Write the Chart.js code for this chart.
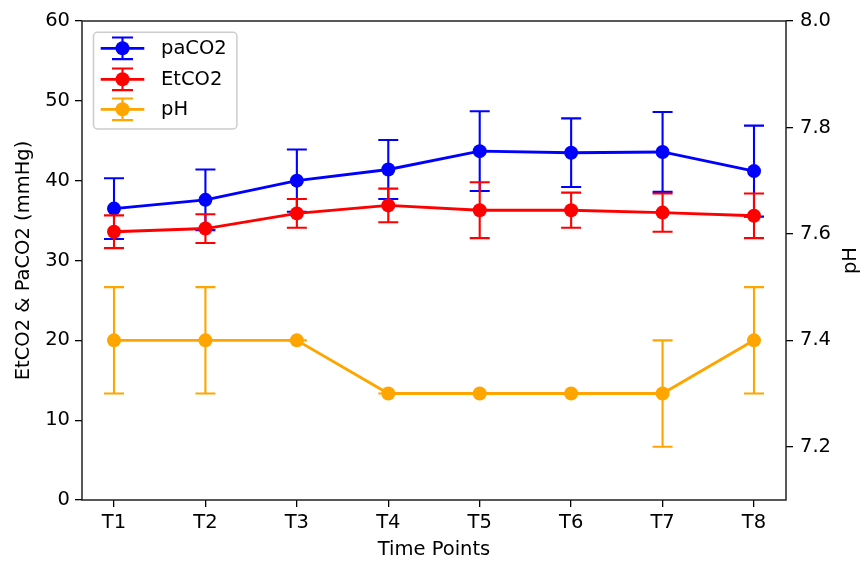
<!DOCTYPE html>
<html><head><meta charset="utf-8">
<script src="https://cdn.jsdelivr.net/npm/chart.js@4"></script>
<style>html,body{margin:0;padding:0;background:#fff}canvas{display:block}</style>
</head><body>
<canvas id="c" width="864" height="563"></canvas>
<script>
const categories = ['T1','T2','T3','T4','T5','T6','T7','T8'];
const paco2    = [36.5, 37.6, 40.0, 41.4, 43.7, 43.5, 43.6, 41.2];
const paco2Err = [3.8, 3.8, 3.9, 3.7, 5.0, 4.3, 5.0, 5.7];
const etco2    = [33.6, 34.0, 35.9, 36.9, 36.3, 36.3, 36.0, 35.6];
const etco2Err = [2.05, 1.8, 1.8, 2.1, 3.5, 2.2, 2.4, 2.8];
const ph       = [7.4, 7.4, 7.4, 7.3, 7.3, 7.3, 7.3, 7.4];
const phErr    = [0.1, 0.1, 0, 0, 0, 0, 0.1, 0.1];
const leftTicks  = [0, 10, 20, 30, 40, 50, 60];
const rightTicks = [7.2, 7.4, 7.6, 7.8, 8.0];

const FS = 19.5;
const FONT = {family: '"DejaVu Sans", sans-serif', size: FS};
const CSSFONT = FS + 'px "DejaVu Sans", sans-serif';
const MARKER_R = 7;

const errorBars = {
  id: 'errorBars',
  beforeDatasetDraw(chart, args) {
    const ds = chart.data.datasets[args.index];
    const yScale = chart.scales[ds.yAxisID];
    const xScale = chart.scales.x;
    const ctx = chart.ctx;
    ctx.save();
    ctx.strokeStyle = ds.borderColor;
    ctx.lineWidth = 2.1;
    ds.data.forEach((pt, i) => {
      const e = ds.errors[i];
      const x = xScale.getPixelForValue(pt.x);
      const y1 = yScale.getPixelForValue(pt.y + e);
      const y2 = yScale.getPixelForValue(pt.y - e);
      ctx.beginPath();
      ctx.moveTo(x, y1); ctx.lineTo(x, y2);
      ctx.moveTo(x - 10, y1); ctx.lineTo(x + 10, y1);
      ctx.moveTo(x - 10, y2); ctx.lineTo(x + 10, y2);
      ctx.stroke();
    });
    ctx.restore();
  }
};

const frame = {
  id: 'frame',
  afterDraw(chart) {
    const {ctx, chartArea: a} = chart;
    ctx.save();
    ctx.strokeStyle = '#222';
    ctx.lineWidth = 1.5;
    ctx.strokeRect(a.left, a.top, a.right - a.left, a.bottom - a.top);
    ctx.restore();
  }
};

const rightTitle = {
  id: 'rightTitle',
  afterDraw(chart) {
    const {ctx, chartArea: a} = chart;
    ctx.save();
    ctx.translate(851, (a.top + a.bottom) / 2);
    ctx.rotate(-Math.PI / 2);
    ctx.fillStyle = '#000';
    ctx.font = CSSFONT;
    ctx.textAlign = 'center';
    ctx.textBaseline = 'middle';
    ctx.fillText('pH', 0, 0);
    ctx.restore();
  }
};

const legendBox = {
  id: 'legendBox',
  afterDraw(chart) {
    const ctx = chart.ctx;
    const a = chart.chartArea;
    const bx = a.left + 11.5, by = a.top + 11.3, bw = 143.4, bh = 96.7;
    ctx.save();
    ctx.beginPath();
    ctx.roundRect(bx, by, bw, bh, 4);
    ctx.fillStyle = 'rgba(255,255,255,0.8)';
    ctx.fill();
    ctx.strokeStyle = '#cccccc';
    ctx.lineWidth = 1.5;
    ctx.stroke();
    const rows = [48.3, 79.3, 109.3];
    [0, 1, 2].forEach((di, r) => {
      const ds = chart.data.datasets[di];
      const cy = rows[r];
      const x0 = 100.7, x1 = 144.3, xm = 122.5;
      ctx.strokeStyle = ds.borderColor;
      ctx.lineWidth = 2.8;
      ctx.beginPath(); ctx.moveTo(x0, cy); ctx.lineTo(x1, cy); ctx.stroke();
      ctx.lineWidth = 2.1;
      ctx.beginPath();
      ctx.moveTo(xm, cy - 10.8); ctx.lineTo(xm, cy + 10.8);
      ctx.moveTo(xm - 10.5, cy - 10.8); ctx.lineTo(xm + 10.5, cy - 10.8);
      ctx.moveTo(xm - 10.5, cy + 10.8); ctx.lineTo(xm + 10.5, cy + 10.8);
      ctx.stroke();
      ctx.fillStyle = ds.backgroundColor;
      ctx.beginPath(); ctx.arc(xm, cy, MARKER_R, 0, Math.PI * 2); ctx.fill();
      ctx.fillStyle = '#000';
      ctx.font = CSSFONT;
      ctx.textAlign = 'left';
      ctx.textBaseline = 'middle';
      ctx.fillText(ds.label, 161, cy + 1);
    });
    ctx.restore();
  }
};

const toXY = arr => arr.map((v, i) => ({x: i, y: v}));
const gridOpts = {drawOnChartArea: false, drawTicks: true, tickLength: 7, color: '#000', lineWidth: 1.3};

new Chart(document.getElementById('c'), {
  type: 'line',
  data: {
    datasets: [
      {label: 'paCO2', data: toXY(paco2), errors: paco2Err, borderColor: '#0000ff', backgroundColor: '#0000ff', yAxisID: 'y', order: 3},
      {label: 'EtCO2', data: toXY(etco2), errors: etco2Err, borderColor: '#ff0000', backgroundColor: '#ff0000', yAxisID: 'y', order: 2},
      {label: 'pH', data: toXY(ph), errors: phErr, borderColor: '#ffa500', backgroundColor: '#ffa500', yAxisID: 'y1', order: 1}
    ]
  },
  options: {
    responsive: false,
    animation: false,
    devicePixelRatio: 1,
    layout: {padding: {top: 21, left: 0, right: 0, bottom: 0}},
    plugins: {legend: {display: false}, tooltip: {enabled: false}},
    elements: {
      line: {borderWidth: 2.9, tension: 0, fill: false},
      point: {radius: MARKER_R, borderWidth: 0, hoverRadius: MARKER_R, pointStyle: 'circle'}
    },
    scales: {
      x: {
        type: 'linear', position: 'bottom', min: -0.35, max: 7.35,
        afterBuildTicks: s => { s.ticks = categories.map((c, i) => ({value: i})); },
        ticks: {callback: v => categories[v], font: FONT, color: '#000', padding: 4, autoSkip: false, maxRotation: 0},
        grid: gridOpts, border: {display: false},
        title: {display: true, text: 'Time Points', font: FONT, color: '#000', padding: {top: 0, bottom: 1}},
        afterFit: s => { s.height = 63; }
      },
      y: {
        type: 'linear', position: 'left', min: 0, max: 60,
        afterBuildTicks: s => { s.ticks = leftTicks.map(v => ({value: v})); },
        ticks: {font: FONT, color: '#000', padding: 5},
        grid: gridOpts, border: {display: false},
        title: {display: true, text: 'EtCO2 & PaCO2 (mmHg)', font: FONT, color: '#000', padding: {top: 12, bottom: 0}},
        afterFit: s => { s.width = 82; }
      },
      y1: {
        type: 'linear', position: 'right', min: 7.1, max: 8.0,
        afterBuildTicks: s => { s.ticks = rightTicks.map(v => ({value: v})); },
        ticks: {font: FONT, color: '#000', padding: 7, callback: v => Number(v).toFixed(1)},
        grid: gridOpts, border: {display: false},
        title: {display: false},
        afterFit: s => { s.width = 78; }
      }
    }
  },
  plugins: [errorBars, frame, legendBox, rightTitle]
});
</script>
</body></html>
